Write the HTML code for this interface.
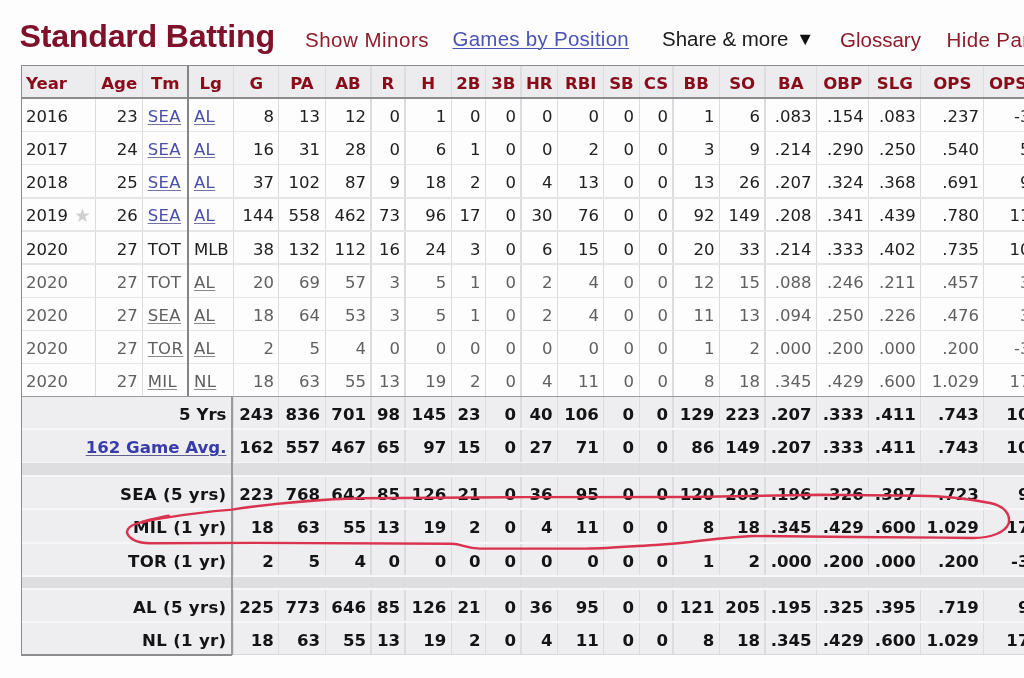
<!DOCTYPE html>
<html><head><meta charset="utf-8"><title>Standard Batting</title>
<style>
html,body{margin:0;padding:0;}
body{width:1024px;height:678px;overflow:hidden;position:relative;background:#fdfdfd;}
.bg,.vl,.hd,.hw,.dk,.th,.td,.tf,.top{position:absolute;}
.vl{width:1.2px;background:#dcdcde;}
.hd{height:1.5px;background:#e5e5e7;}
.hw{height:1.8px;background:#f7f7f9;}
.dk{background:#8c8c8e;}
.th,.td,.tf{font-family:"DejaVu Sans","Liberation Sans",sans-serif;white-space:nowrap;overflow:visible;box-sizing:border-box;}
.th{font-weight:bold;font-size:16.6px;color:#880c1a;text-align:center;line-height:33px;padding-top:2px;}
.td{font-size:16.5px;color:#202020;line-height:33px;padding-top:1.5px;}
.td.p{color:#606062;}
.td u{text-decoration:underline;text-decoration-thickness:1.2px;text-underline-offset:2px;color:#4a50a8;text-decoration-color:#7275a6;letter-spacing:0.4px;}
.td.p u{color:#606062;text-decoration-color:#8a8a8c;}
.tf{font-size:16.6px;font-weight:bold;color:#141414;line-height:33px;padding-top:2px;}
.tf u.lk{color:#383ca8;text-decoration-thickness:1.2px;text-underline-offset:2px;text-decoration-color:#5d6090;}
.star{color:#c8c8ca;font-size:15px;margin-left:8px;}
.top{font-family:"Liberation Sans",Arial,sans-serif;white-space:nowrap;}
h2.top{margin:0;font-weight:bold;font-size:32.2px;color:#80112a;left:19.5px;top:17.6px;letter-spacing:-0.25px;}
.lnk{font-size:20.5px;top:27px;}
.red{color:#8e1c2a;}
.blue{color:#4a55b5;text-decoration:underline;text-decoration-thickness:1.2px;text-underline-offset:2px;}
.blk{color:#1a1a1a;}
svg.ov{position:absolute;left:0;top:0;}
</style></head><body>
<h2 class="top">Standard Batting</h2>
<div class="top lnk red" style="left:305px;top:28px;letter-spacing:0.5px">Show Minors</div>
<div class="top lnk blue" style="left:452.5px;letter-spacing:0.26px">Games by Position</div>
<div class="top lnk blk" style="left:662px">Share &amp; more</div>
<svg style="position:absolute;left:0;top:0" width="1024" height="60"><polygon points="799.8,34.8 810.6,34.8 805.2,45.2" fill="#111"/></svg>
<div class="top lnk red" style="left:840px;top:28px">Glossary</div>
<div class="top lnk red" style="left:946.5px;top:28px;letter-spacing:0.4px">Hide Partial Seasons</div>
<div class="bg" style="left:21px;top:65.0px;width:1009px;height:33.0px;background:#ecebee"></div>
<div class="bg" style="left:21px;top:396.2px;width:1009px;height:258.59999999999997px;background:#eeedf0"></div>
<div class="bg" style="left:21px;top:462.7px;width:1009px;height:13.5px;background:#dedde0"></div>
<div class="bg" style="left:21px;top:576.0px;width:1009px;height:13.399999999999977px;background:#dedde0"></div>
<div class="vl" style="left:95px;top:65.0px;height:33.0px"></div>
<div class="vl" style="left:95px;top:98.0px;height:298.2px"></div>
<div class="vl" style="left:142.15px;top:65.0px;height:33.0px"></div>
<div class="vl" style="left:142.15px;top:98.0px;height:298.2px"></div>
<div class="vl" style="left:233px;top:65.0px;height:33.0px"></div>
<div class="vl" style="left:233px;top:98.0px;height:298.2px"></div>
<div class="vl" style="left:233px;top:396.2px;height:258.59999999999997px"></div>
<div class="vl" style="left:278.3px;top:65.0px;height:33.0px"></div>
<div class="vl" style="left:278.3px;top:98.0px;height:298.2px"></div>
<div class="vl" style="left:278.3px;top:396.2px;height:258.59999999999997px"></div>
<div class="vl" style="left:324.5px;top:65.0px;height:33.0px"></div>
<div class="vl" style="left:324.5px;top:98.0px;height:298.2px"></div>
<div class="vl" style="left:324.5px;top:396.2px;height:258.59999999999997px"></div>
<div class="vl" style="left:370.4px;top:65.0px;height:33.0px"></div>
<div class="vl" style="left:370.4px;top:98.0px;height:298.2px"></div>
<div class="vl" style="left:370.4px;top:396.2px;height:258.59999999999997px"></div>
<div class="vl" style="left:404.4px;top:65.0px;height:33.0px"></div>
<div class="vl" style="left:404.4px;top:98.0px;height:298.2px"></div>
<div class="vl" style="left:404.4px;top:396.2px;height:258.59999999999997px"></div>
<div class="vl" style="left:450.65px;top:65.0px;height:33.0px"></div>
<div class="vl" style="left:450.65px;top:98.0px;height:298.2px"></div>
<div class="vl" style="left:450.65px;top:396.2px;height:258.59999999999997px"></div>
<div class="vl" style="left:484.9px;top:65.0px;height:33.0px"></div>
<div class="vl" style="left:484.9px;top:98.0px;height:298.2px"></div>
<div class="vl" style="left:484.9px;top:396.2px;height:258.59999999999997px"></div>
<div class="vl" style="left:520.4px;top:65.0px;height:33.0px"></div>
<div class="vl" style="left:520.4px;top:98.0px;height:298.2px"></div>
<div class="vl" style="left:520.4px;top:396.2px;height:258.59999999999997px"></div>
<div class="vl" style="left:557px;top:65.0px;height:33.0px"></div>
<div class="vl" style="left:557px;top:98.0px;height:298.2px"></div>
<div class="vl" style="left:557px;top:396.2px;height:258.59999999999997px"></div>
<div class="vl" style="left:603.3px;top:65.0px;height:33.0px"></div>
<div class="vl" style="left:603.3px;top:98.0px;height:298.2px"></div>
<div class="vl" style="left:603.3px;top:396.2px;height:258.59999999999997px"></div>
<div class="vl" style="left:638.5px;top:65.0px;height:33.0px"></div>
<div class="vl" style="left:638.5px;top:98.0px;height:298.2px"></div>
<div class="vl" style="left:638.5px;top:396.2px;height:258.59999999999997px"></div>
<div class="vl" style="left:672.4px;top:65.0px;height:33.0px"></div>
<div class="vl" style="left:672.4px;top:98.0px;height:298.2px"></div>
<div class="vl" style="left:672.4px;top:396.2px;height:258.59999999999997px"></div>
<div class="vl" style="left:718.8px;top:65.0px;height:33.0px"></div>
<div class="vl" style="left:718.8px;top:98.0px;height:298.2px"></div>
<div class="vl" style="left:718.8px;top:396.2px;height:258.59999999999997px"></div>
<div class="vl" style="left:764.4px;top:65.0px;height:33.0px"></div>
<div class="vl" style="left:764.4px;top:98.0px;height:298.2px"></div>
<div class="vl" style="left:764.4px;top:396.2px;height:258.59999999999997px"></div>
<div class="vl" style="left:816px;top:65.0px;height:33.0px"></div>
<div class="vl" style="left:816px;top:98.0px;height:298.2px"></div>
<div class="vl" style="left:816px;top:396.2px;height:258.59999999999997px"></div>
<div class="vl" style="left:868.15px;top:65.0px;height:33.0px"></div>
<div class="vl" style="left:868.15px;top:98.0px;height:298.2px"></div>
<div class="vl" style="left:868.15px;top:396.2px;height:258.59999999999997px"></div>
<div class="vl" style="left:920.2px;top:65.0px;height:33.0px"></div>
<div class="vl" style="left:920.2px;top:98.0px;height:298.2px"></div>
<div class="vl" style="left:920.2px;top:396.2px;height:258.59999999999997px"></div>
<div class="vl" style="left:983.3px;top:65.0px;height:33.0px"></div>
<div class="vl" style="left:983.3px;top:98.0px;height:298.2px"></div>
<div class="vl" style="left:983.3px;top:396.2px;height:258.59999999999997px"></div>
<div class="hd" style="left:21px;top:130.55px;width:1009px"></div>
<div class="hd" style="left:21px;top:163.85px;width:1009px"></div>
<div class="hd" style="left:21px;top:197.15px;width:1009px"></div>
<div class="hd" style="left:21px;top:230.25px;width:1009px"></div>
<div class="hd" style="left:21px;top:263.25px;width:1009px"></div>
<div class="hd" style="left:21px;top:296.55px;width:1009px"></div>
<div class="hd" style="left:21px;top:329.75px;width:1009px"></div>
<div class="hd" style="left:21px;top:362.85px;width:1009px"></div>
<div class="hw" style="left:21px;top:428.2px;width:1009px"></div>
<div class="hw" style="left:21px;top:461.7px;width:1009px"></div>
<div class="hw" style="left:21px;top:475.2px;width:1009px"></div>
<div class="hw" style="left:21px;top:508.3px;width:1009px"></div>
<div class="hw" style="left:21px;top:542.2px;width:1009px"></div>
<div class="hw" style="left:21px;top:575px;width:1009px"></div>
<div class="hw" style="left:21px;top:588.4px;width:1009px"></div>
<div class="hw" style="left:21px;top:620.8px;width:1009px"></div>
<div class="dk" style="left:21px;top:64.5px;width:1009px;height:1.5px"></div>
<div class="dk" style="left:21px;top:97.3px;width:1009px;height:1.5px"></div>
<div class="dk" style="left:21px;top:395.9px;width:1009px;height:1.4px;background:#9a9a9c"></div>
<div class="dk" style="left:21px;top:654.3px;width:211px;height:1.6px"></div>
<div class="dk" style="left:232px;top:653.8px;width:798px;height:1.4px;background:#d9d9db"></div>
<div class="dk" style="left:20.5px;top:64.5px;width:1.5px;height:591.3px"></div>
<div class="dk" style="left:186.85px;top:65.0px;width:1.8px;height:331.2px;background:#858587"></div>
<div class="dk" style="left:231.3px;top:396.2px;width:1.4px;height:258.59999999999997px;background:#9a9a9c"></div>
<div class="th" style="left:25.9px;top:65.0px;height:33.0px;width:69.7px;text-align:left">Year</div>
<div class="th" style="left:95.6px;top:65.0px;height:33.0px;width:47.15px">Age</div>
<div class="th" style="left:142.75px;top:65.0px;height:33.0px;width:45px">Tm</div>
<div class="th" style="left:187.75px;top:65.0px;height:33.0px;width:45.85px">Lg</div>
<div class="th" style="left:233.6px;top:65.0px;height:33.0px;width:45.3px">G</div>
<div class="th" style="left:278.9px;top:65.0px;height:33.0px;width:46.2px">PA</div>
<div class="th" style="left:325.1px;top:65.0px;height:33.0px;width:45.9px">AB</div>
<div class="th" style="left:371px;top:65.0px;height:33.0px;width:34px">R</div>
<div class="th" style="left:405px;top:65.0px;height:33.0px;width:46.25px">H</div>
<div class="th" style="left:451.25px;top:65.0px;height:33.0px;width:34.25px">2B</div>
<div class="th" style="left:485.5px;top:65.0px;height:33.0px;width:35.5px">3B</div>
<div class="th" style="left:521px;top:65.0px;height:33.0px;width:36.6px">HR</div>
<div class="th" style="left:557.6px;top:65.0px;height:33.0px;width:46.3px">RBI</div>
<div class="th" style="left:603.9px;top:65.0px;height:33.0px;width:35.2px">SB</div>
<div class="th" style="left:639.1px;top:65.0px;height:33.0px;width:33.9px">CS</div>
<div class="th" style="left:673px;top:65.0px;height:33.0px;width:46.4px">BB</div>
<div class="th" style="left:719.4px;top:65.0px;height:33.0px;width:45.6px">SO</div>
<div class="th" style="left:765px;top:65.0px;height:33.0px;width:51.6px">BA</div>
<div class="th" style="left:816.6px;top:65.0px;height:33.0px;width:52.15px">OBP</div>
<div class="th" style="left:868.75px;top:65.0px;height:33.0px;width:52.05px">SLG</div>
<div class="th" style="left:920.8px;top:65.0px;height:33.0px;width:63.1px">OPS</div>
<div class="th" style="left:983.9px;top:65.0px;height:33.0px;width:62.1px">OPS+</div>
<div class="td" style="top:98px;height:33.3px;left:25.9px;width:69.7px;text-align:left">2016</div>
<div class="td" style="top:98px;height:33.3px;left:95.6px;width:42.15px;text-align:right">23</div>
<div class="td" style="top:98px;height:33.3px;left:147.65px;width:40.1px;text-align:left"><u>SEA</u></div>
<div class="td" style="top:98px;height:33.3px;left:193.95px;width:39.65px;text-align:left"><u>AL</u></div>
<div class="td" style="top:98px;height:33.3px;left:233.6px;width:40.3px;text-align:right">8</div>
<div class="td" style="top:98px;height:33.3px;left:278.9px;width:41.2px;text-align:right">13</div>
<div class="td" style="top:98px;height:33.3px;left:325.1px;width:40.9px;text-align:right">12</div>
<div class="td" style="top:98px;height:33.3px;left:371px;width:29px;text-align:right">0</div>
<div class="td" style="top:98px;height:33.3px;left:405px;width:41.25px;text-align:right">1</div>
<div class="td" style="top:98px;height:33.3px;left:451.25px;width:29.25px;text-align:right">0</div>
<div class="td" style="top:98px;height:33.3px;left:485.5px;width:30.5px;text-align:right">0</div>
<div class="td" style="top:98px;height:33.3px;left:521px;width:31.6px;text-align:right">0</div>
<div class="td" style="top:98px;height:33.3px;left:557.6px;width:41.3px;text-align:right">0</div>
<div class="td" style="top:98px;height:33.3px;left:603.9px;width:30.2px;text-align:right">0</div>
<div class="td" style="top:98px;height:33.3px;left:639.1px;width:28.9px;text-align:right">0</div>
<div class="td" style="top:98px;height:33.3px;left:673px;width:41.4px;text-align:right">1</div>
<div class="td" style="top:98px;height:33.3px;left:719.4px;width:40.6px;text-align:right">6</div>
<div class="td" style="top:98px;height:33.3px;left:765px;width:46.6px;text-align:right">.083</div>
<div class="td" style="top:98px;height:33.3px;left:816.6px;width:47.15px;text-align:right">.154</div>
<div class="td" style="top:98px;height:33.3px;left:868.75px;width:47.05px;text-align:right">.083</div>
<div class="td" style="top:98px;height:33.3px;left:920.8px;width:58.1px;text-align:right">.237</div>
<div class="td" style="top:98px;height:33.3px;left:983.9px;width:57.1px;text-align:right">-31</div>
<div class="td" style="top:131.3px;height:33.3px;left:25.9px;width:69.7px;text-align:left">2017</div>
<div class="td" style="top:131.3px;height:33.3px;left:95.6px;width:42.15px;text-align:right">24</div>
<div class="td" style="top:131.3px;height:33.3px;left:147.65px;width:40.1px;text-align:left"><u>SEA</u></div>
<div class="td" style="top:131.3px;height:33.3px;left:193.95px;width:39.65px;text-align:left"><u>AL</u></div>
<div class="td" style="top:131.3px;height:33.3px;left:233.6px;width:40.3px;text-align:right">16</div>
<div class="td" style="top:131.3px;height:33.3px;left:278.9px;width:41.2px;text-align:right">31</div>
<div class="td" style="top:131.3px;height:33.3px;left:325.1px;width:40.9px;text-align:right">28</div>
<div class="td" style="top:131.3px;height:33.3px;left:371px;width:29px;text-align:right">0</div>
<div class="td" style="top:131.3px;height:33.3px;left:405px;width:41.25px;text-align:right">6</div>
<div class="td" style="top:131.3px;height:33.3px;left:451.25px;width:29.25px;text-align:right">1</div>
<div class="td" style="top:131.3px;height:33.3px;left:485.5px;width:30.5px;text-align:right">0</div>
<div class="td" style="top:131.3px;height:33.3px;left:521px;width:31.6px;text-align:right">0</div>
<div class="td" style="top:131.3px;height:33.3px;left:557.6px;width:41.3px;text-align:right">2</div>
<div class="td" style="top:131.3px;height:33.3px;left:603.9px;width:30.2px;text-align:right">0</div>
<div class="td" style="top:131.3px;height:33.3px;left:639.1px;width:28.9px;text-align:right">0</div>
<div class="td" style="top:131.3px;height:33.3px;left:673px;width:41.4px;text-align:right">3</div>
<div class="td" style="top:131.3px;height:33.3px;left:719.4px;width:40.6px;text-align:right">9</div>
<div class="td" style="top:131.3px;height:33.3px;left:765px;width:46.6px;text-align:right">.214</div>
<div class="td" style="top:131.3px;height:33.3px;left:816.6px;width:47.15px;text-align:right">.290</div>
<div class="td" style="top:131.3px;height:33.3px;left:868.75px;width:47.05px;text-align:right">.250</div>
<div class="td" style="top:131.3px;height:33.3px;left:920.8px;width:58.1px;text-align:right">.540</div>
<div class="td" style="top:131.3px;height:33.3px;left:983.9px;width:57.1px;text-align:right">53</div>
<div class="td" style="top:164.6px;height:33.3px;left:25.9px;width:69.7px;text-align:left">2018</div>
<div class="td" style="top:164.6px;height:33.3px;left:95.6px;width:42.15px;text-align:right">25</div>
<div class="td" style="top:164.6px;height:33.3px;left:147.65px;width:40.1px;text-align:left"><u>SEA</u></div>
<div class="td" style="top:164.6px;height:33.3px;left:193.95px;width:39.65px;text-align:left"><u>AL</u></div>
<div class="td" style="top:164.6px;height:33.3px;left:233.6px;width:40.3px;text-align:right">37</div>
<div class="td" style="top:164.6px;height:33.3px;left:278.9px;width:41.2px;text-align:right">102</div>
<div class="td" style="top:164.6px;height:33.3px;left:325.1px;width:40.9px;text-align:right">87</div>
<div class="td" style="top:164.6px;height:33.3px;left:371px;width:29px;text-align:right">9</div>
<div class="td" style="top:164.6px;height:33.3px;left:405px;width:41.25px;text-align:right">18</div>
<div class="td" style="top:164.6px;height:33.3px;left:451.25px;width:29.25px;text-align:right">2</div>
<div class="td" style="top:164.6px;height:33.3px;left:485.5px;width:30.5px;text-align:right">0</div>
<div class="td" style="top:164.6px;height:33.3px;left:521px;width:31.6px;text-align:right">4</div>
<div class="td" style="top:164.6px;height:33.3px;left:557.6px;width:41.3px;text-align:right">13</div>
<div class="td" style="top:164.6px;height:33.3px;left:603.9px;width:30.2px;text-align:right">0</div>
<div class="td" style="top:164.6px;height:33.3px;left:639.1px;width:28.9px;text-align:right">0</div>
<div class="td" style="top:164.6px;height:33.3px;left:673px;width:41.4px;text-align:right">13</div>
<div class="td" style="top:164.6px;height:33.3px;left:719.4px;width:40.6px;text-align:right">26</div>
<div class="td" style="top:164.6px;height:33.3px;left:765px;width:46.6px;text-align:right">.207</div>
<div class="td" style="top:164.6px;height:33.3px;left:816.6px;width:47.15px;text-align:right">.324</div>
<div class="td" style="top:164.6px;height:33.3px;left:868.75px;width:47.05px;text-align:right">.368</div>
<div class="td" style="top:164.6px;height:33.3px;left:920.8px;width:58.1px;text-align:right">.691</div>
<div class="td" style="top:164.6px;height:33.3px;left:983.9px;width:57.1px;text-align:right">93</div>
<div class="td" style="top:197.9px;height:33.1px;left:25.9px;width:69.7px;text-align:left">2019</div>
<div class="td" style="top:197.9px;height:33.1px;left:95.6px;width:42.15px;text-align:right">26</div>
<div class="td" style="top:197.9px;height:33.1px;left:147.65px;width:40.1px;text-align:left"><u>SEA</u></div>
<div class="td" style="top:197.9px;height:33.1px;left:193.95px;width:39.65px;text-align:left"><u>AL</u></div>
<div class="td" style="top:197.9px;height:33.1px;left:233.6px;width:40.3px;text-align:right">144</div>
<div class="td" style="top:197.9px;height:33.1px;left:278.9px;width:41.2px;text-align:right">558</div>
<div class="td" style="top:197.9px;height:33.1px;left:325.1px;width:40.9px;text-align:right">462</div>
<div class="td" style="top:197.9px;height:33.1px;left:371px;width:29px;text-align:right">73</div>
<div class="td" style="top:197.9px;height:33.1px;left:405px;width:41.25px;text-align:right">96</div>
<div class="td" style="top:197.9px;height:33.1px;left:451.25px;width:29.25px;text-align:right">17</div>
<div class="td" style="top:197.9px;height:33.1px;left:485.5px;width:30.5px;text-align:right">0</div>
<div class="td" style="top:197.9px;height:33.1px;left:521px;width:31.6px;text-align:right">30</div>
<div class="td" style="top:197.9px;height:33.1px;left:557.6px;width:41.3px;text-align:right">76</div>
<div class="td" style="top:197.9px;height:33.1px;left:603.9px;width:30.2px;text-align:right">0</div>
<div class="td" style="top:197.9px;height:33.1px;left:639.1px;width:28.9px;text-align:right">0</div>
<div class="td" style="top:197.9px;height:33.1px;left:673px;width:41.4px;text-align:right">92</div>
<div class="td" style="top:197.9px;height:33.1px;left:719.4px;width:40.6px;text-align:right">149</div>
<div class="td" style="top:197.9px;height:33.1px;left:765px;width:46.6px;text-align:right">.208</div>
<div class="td" style="top:197.9px;height:33.1px;left:816.6px;width:47.15px;text-align:right">.341</div>
<div class="td" style="top:197.9px;height:33.1px;left:868.75px;width:47.05px;text-align:right">.439</div>
<div class="td" style="top:197.9px;height:33.1px;left:920.8px;width:58.1px;text-align:right">.780</div>
<div class="td" style="top:197.9px;height:33.1px;left:983.9px;width:57.1px;text-align:right">112</div>
<div class="td" style="top:231px;height:33px;left:25.9px;width:69.7px;text-align:left">2020</div>
<div class="td" style="top:231px;height:33px;left:95.6px;width:42.15px;text-align:right">27</div>
<div class="td" style="top:231px;height:33px;left:147.65px;width:40.1px;text-align:left">TOT</div>
<div class="td" style="top:231px;height:33px;left:193.95px;width:39.65px;text-align:left">MLB</div>
<div class="td" style="top:231px;height:33px;left:233.6px;width:40.3px;text-align:right">38</div>
<div class="td" style="top:231px;height:33px;left:278.9px;width:41.2px;text-align:right">132</div>
<div class="td" style="top:231px;height:33px;left:325.1px;width:40.9px;text-align:right">112</div>
<div class="td" style="top:231px;height:33px;left:371px;width:29px;text-align:right">16</div>
<div class="td" style="top:231px;height:33px;left:405px;width:41.25px;text-align:right">24</div>
<div class="td" style="top:231px;height:33px;left:451.25px;width:29.25px;text-align:right">3</div>
<div class="td" style="top:231px;height:33px;left:485.5px;width:30.5px;text-align:right">0</div>
<div class="td" style="top:231px;height:33px;left:521px;width:31.6px;text-align:right">6</div>
<div class="td" style="top:231px;height:33px;left:557.6px;width:41.3px;text-align:right">15</div>
<div class="td" style="top:231px;height:33px;left:603.9px;width:30.2px;text-align:right">0</div>
<div class="td" style="top:231px;height:33px;left:639.1px;width:28.9px;text-align:right">0</div>
<div class="td" style="top:231px;height:33px;left:673px;width:41.4px;text-align:right">20</div>
<div class="td" style="top:231px;height:33px;left:719.4px;width:40.6px;text-align:right">33</div>
<div class="td" style="top:231px;height:33px;left:765px;width:46.6px;text-align:right">.214</div>
<div class="td" style="top:231px;height:33px;left:816.6px;width:47.15px;text-align:right">.333</div>
<div class="td" style="top:231px;height:33px;left:868.75px;width:47.05px;text-align:right">.402</div>
<div class="td" style="top:231px;height:33px;left:920.8px;width:58.1px;text-align:right">.735</div>
<div class="td" style="top:231px;height:33px;left:983.9px;width:57.1px;text-align:right">103</div>
<div class="td p" style="top:264px;height:33.3px;left:25.9px;width:69.7px;text-align:left">2020</div>
<div class="td p" style="top:264px;height:33.3px;left:95.6px;width:42.15px;text-align:right">27</div>
<div class="td p" style="top:264px;height:33.3px;left:147.65px;width:40.1px;text-align:left">TOT</div>
<div class="td p" style="top:264px;height:33.3px;left:193.95px;width:39.65px;text-align:left"><u>AL</u></div>
<div class="td p" style="top:264px;height:33.3px;left:233.6px;width:40.3px;text-align:right">20</div>
<div class="td p" style="top:264px;height:33.3px;left:278.9px;width:41.2px;text-align:right">69</div>
<div class="td p" style="top:264px;height:33.3px;left:325.1px;width:40.9px;text-align:right">57</div>
<div class="td p" style="top:264px;height:33.3px;left:371px;width:29px;text-align:right">3</div>
<div class="td p" style="top:264px;height:33.3px;left:405px;width:41.25px;text-align:right">5</div>
<div class="td p" style="top:264px;height:33.3px;left:451.25px;width:29.25px;text-align:right">1</div>
<div class="td p" style="top:264px;height:33.3px;left:485.5px;width:30.5px;text-align:right">0</div>
<div class="td p" style="top:264px;height:33.3px;left:521px;width:31.6px;text-align:right">2</div>
<div class="td p" style="top:264px;height:33.3px;left:557.6px;width:41.3px;text-align:right">4</div>
<div class="td p" style="top:264px;height:33.3px;left:603.9px;width:30.2px;text-align:right">0</div>
<div class="td p" style="top:264px;height:33.3px;left:639.1px;width:28.9px;text-align:right">0</div>
<div class="td p" style="top:264px;height:33.3px;left:673px;width:41.4px;text-align:right">12</div>
<div class="td p" style="top:264px;height:33.3px;left:719.4px;width:40.6px;text-align:right">15</div>
<div class="td p" style="top:264px;height:33.3px;left:765px;width:46.6px;text-align:right">.088</div>
<div class="td p" style="top:264px;height:33.3px;left:816.6px;width:47.15px;text-align:right">.246</div>
<div class="td p" style="top:264px;height:33.3px;left:868.75px;width:47.05px;text-align:right">.211</div>
<div class="td p" style="top:264px;height:33.3px;left:920.8px;width:58.1px;text-align:right">.457</div>
<div class="td p" style="top:264px;height:33.3px;left:983.9px;width:57.1px;text-align:right">31</div>
<div class="td p" style="top:297.3px;height:33.2px;left:25.9px;width:69.7px;text-align:left">2020</div>
<div class="td p" style="top:297.3px;height:33.2px;left:95.6px;width:42.15px;text-align:right">27</div>
<div class="td p" style="top:297.3px;height:33.2px;left:147.65px;width:40.1px;text-align:left"><u>SEA</u></div>
<div class="td p" style="top:297.3px;height:33.2px;left:193.95px;width:39.65px;text-align:left"><u>AL</u></div>
<div class="td p" style="top:297.3px;height:33.2px;left:233.6px;width:40.3px;text-align:right">18</div>
<div class="td p" style="top:297.3px;height:33.2px;left:278.9px;width:41.2px;text-align:right">64</div>
<div class="td p" style="top:297.3px;height:33.2px;left:325.1px;width:40.9px;text-align:right">53</div>
<div class="td p" style="top:297.3px;height:33.2px;left:371px;width:29px;text-align:right">3</div>
<div class="td p" style="top:297.3px;height:33.2px;left:405px;width:41.25px;text-align:right">5</div>
<div class="td p" style="top:297.3px;height:33.2px;left:451.25px;width:29.25px;text-align:right">1</div>
<div class="td p" style="top:297.3px;height:33.2px;left:485.5px;width:30.5px;text-align:right">0</div>
<div class="td p" style="top:297.3px;height:33.2px;left:521px;width:31.6px;text-align:right">2</div>
<div class="td p" style="top:297.3px;height:33.2px;left:557.6px;width:41.3px;text-align:right">4</div>
<div class="td p" style="top:297.3px;height:33.2px;left:603.9px;width:30.2px;text-align:right">0</div>
<div class="td p" style="top:297.3px;height:33.2px;left:639.1px;width:28.9px;text-align:right">0</div>
<div class="td p" style="top:297.3px;height:33.2px;left:673px;width:41.4px;text-align:right">11</div>
<div class="td p" style="top:297.3px;height:33.2px;left:719.4px;width:40.6px;text-align:right">13</div>
<div class="td p" style="top:297.3px;height:33.2px;left:765px;width:46.6px;text-align:right">.094</div>
<div class="td p" style="top:297.3px;height:33.2px;left:816.6px;width:47.15px;text-align:right">.250</div>
<div class="td p" style="top:297.3px;height:33.2px;left:868.75px;width:47.05px;text-align:right">.226</div>
<div class="td p" style="top:297.3px;height:33.2px;left:920.8px;width:58.1px;text-align:right">.476</div>
<div class="td p" style="top:297.3px;height:33.2px;left:983.9px;width:57.1px;text-align:right">35</div>
<div class="td p" style="top:330.5px;height:33.1px;left:25.9px;width:69.7px;text-align:left">2020</div>
<div class="td p" style="top:330.5px;height:33.1px;left:95.6px;width:42.15px;text-align:right">27</div>
<div class="td p" style="top:330.5px;height:33.1px;left:147.65px;width:40.1px;text-align:left"><u>TOR</u></div>
<div class="td p" style="top:330.5px;height:33.1px;left:193.95px;width:39.65px;text-align:left"><u>AL</u></div>
<div class="td p" style="top:330.5px;height:33.1px;left:233.6px;width:40.3px;text-align:right">2</div>
<div class="td p" style="top:330.5px;height:33.1px;left:278.9px;width:41.2px;text-align:right">5</div>
<div class="td p" style="top:330.5px;height:33.1px;left:325.1px;width:40.9px;text-align:right">4</div>
<div class="td p" style="top:330.5px;height:33.1px;left:371px;width:29px;text-align:right">0</div>
<div class="td p" style="top:330.5px;height:33.1px;left:405px;width:41.25px;text-align:right">0</div>
<div class="td p" style="top:330.5px;height:33.1px;left:451.25px;width:29.25px;text-align:right">0</div>
<div class="td p" style="top:330.5px;height:33.1px;left:485.5px;width:30.5px;text-align:right">0</div>
<div class="td p" style="top:330.5px;height:33.1px;left:521px;width:31.6px;text-align:right">0</div>
<div class="td p" style="top:330.5px;height:33.1px;left:557.6px;width:41.3px;text-align:right">0</div>
<div class="td p" style="top:330.5px;height:33.1px;left:603.9px;width:30.2px;text-align:right">0</div>
<div class="td p" style="top:330.5px;height:33.1px;left:639.1px;width:28.9px;text-align:right">0</div>
<div class="td p" style="top:330.5px;height:33.1px;left:673px;width:41.4px;text-align:right">1</div>
<div class="td p" style="top:330.5px;height:33.1px;left:719.4px;width:40.6px;text-align:right">2</div>
<div class="td p" style="top:330.5px;height:33.1px;left:765px;width:46.6px;text-align:right">.000</div>
<div class="td p" style="top:330.5px;height:33.1px;left:816.6px;width:47.15px;text-align:right">.200</div>
<div class="td p" style="top:330.5px;height:33.1px;left:868.75px;width:47.05px;text-align:right">.000</div>
<div class="td p" style="top:330.5px;height:33.1px;left:920.8px;width:58.1px;text-align:right">.200</div>
<div class="td p" style="top:330.5px;height:33.1px;left:983.9px;width:57.1px;text-align:right">-39</div>
<div class="td p" style="top:363.6px;height:32.6px;left:25.9px;width:69.7px;text-align:left">2020</div>
<div class="td p" style="top:363.6px;height:32.6px;left:95.6px;width:42.15px;text-align:right">27</div>
<div class="td p" style="top:363.6px;height:32.6px;left:147.65px;width:40.1px;text-align:left"><u>MIL</u></div>
<div class="td p" style="top:363.6px;height:32.6px;left:193.95px;width:39.65px;text-align:left"><u>NL</u></div>
<div class="td p" style="top:363.6px;height:32.6px;left:233.6px;width:40.3px;text-align:right">18</div>
<div class="td p" style="top:363.6px;height:32.6px;left:278.9px;width:41.2px;text-align:right">63</div>
<div class="td p" style="top:363.6px;height:32.6px;left:325.1px;width:40.9px;text-align:right">55</div>
<div class="td p" style="top:363.6px;height:32.6px;left:371px;width:29px;text-align:right">13</div>
<div class="td p" style="top:363.6px;height:32.6px;left:405px;width:41.25px;text-align:right">19</div>
<div class="td p" style="top:363.6px;height:32.6px;left:451.25px;width:29.25px;text-align:right">2</div>
<div class="td p" style="top:363.6px;height:32.6px;left:485.5px;width:30.5px;text-align:right">0</div>
<div class="td p" style="top:363.6px;height:32.6px;left:521px;width:31.6px;text-align:right">4</div>
<div class="td p" style="top:363.6px;height:32.6px;left:557.6px;width:41.3px;text-align:right">11</div>
<div class="td p" style="top:363.6px;height:32.6px;left:603.9px;width:30.2px;text-align:right">0</div>
<div class="td p" style="top:363.6px;height:32.6px;left:639.1px;width:28.9px;text-align:right">0</div>
<div class="td p" style="top:363.6px;height:32.6px;left:673px;width:41.4px;text-align:right">8</div>
<div class="td p" style="top:363.6px;height:32.6px;left:719.4px;width:40.6px;text-align:right">18</div>
<div class="td p" style="top:363.6px;height:32.6px;left:765px;width:46.6px;text-align:right">.345</div>
<div class="td p" style="top:363.6px;height:32.6px;left:816.6px;width:47.15px;text-align:right">.429</div>
<div class="td p" style="top:363.6px;height:32.6px;left:868.75px;width:47.05px;text-align:right">.600</div>
<div class="td p" style="top:363.6px;height:32.6px;left:920.8px;width:58.1px;text-align:right">1.029</div>
<div class="td p" style="top:363.6px;height:32.6px;left:983.9px;width:57.1px;text-align:right">176</div>
<div class="tf" style="top:396.2px;height:33px;left:21px;width:205.5px;text-align:right">5 Yrs</div>
<div class="tf" style="top:396.2px;height:33px;left:233.6px;width:40.3px;text-align:right">243</div>
<div class="tf" style="top:396.2px;height:33px;left:278.9px;width:41.2px;text-align:right">836</div>
<div class="tf" style="top:396.2px;height:33px;left:325.1px;width:40.9px;text-align:right">701</div>
<div class="tf" style="top:396.2px;height:33px;left:371px;width:29px;text-align:right">98</div>
<div class="tf" style="top:396.2px;height:33px;left:405px;width:41.25px;text-align:right">145</div>
<div class="tf" style="top:396.2px;height:33px;left:451.25px;width:29.25px;text-align:right">23</div>
<div class="tf" style="top:396.2px;height:33px;left:485.5px;width:30.5px;text-align:right">0</div>
<div class="tf" style="top:396.2px;height:33px;left:521px;width:31.6px;text-align:right">40</div>
<div class="tf" style="top:396.2px;height:33px;left:557.6px;width:41.3px;text-align:right">106</div>
<div class="tf" style="top:396.2px;height:33px;left:603.9px;width:30.2px;text-align:right">0</div>
<div class="tf" style="top:396.2px;height:33px;left:639.1px;width:28.9px;text-align:right">0</div>
<div class="tf" style="top:396.2px;height:33px;left:673px;width:41.4px;text-align:right">129</div>
<div class="tf" style="top:396.2px;height:33px;left:719.4px;width:40.6px;text-align:right">223</div>
<div class="tf" style="top:396.2px;height:33px;left:765px;width:46.6px;text-align:right">.207</div>
<div class="tf" style="top:396.2px;height:33px;left:816.6px;width:47.15px;text-align:right">.333</div>
<div class="tf" style="top:396.2px;height:33px;left:868.75px;width:47.05px;text-align:right">.411</div>
<div class="tf" style="top:396.2px;height:33px;left:920.8px;width:58.1px;text-align:right">.743</div>
<div class="tf" style="top:396.2px;height:33px;left:983.9px;width:57.1px;text-align:right">104</div>
<div class="tf" style="top:429.2px;height:33.5px;left:21px;width:205.5px;text-align:right"><u class="lk">162 Game Avg.</u></div>
<div class="tf" style="top:429.2px;height:33.5px;left:233.6px;width:40.3px;text-align:right">162</div>
<div class="tf" style="top:429.2px;height:33.5px;left:278.9px;width:41.2px;text-align:right">557</div>
<div class="tf" style="top:429.2px;height:33.5px;left:325.1px;width:40.9px;text-align:right">467</div>
<div class="tf" style="top:429.2px;height:33.5px;left:371px;width:29px;text-align:right">65</div>
<div class="tf" style="top:429.2px;height:33.5px;left:405px;width:41.25px;text-align:right">97</div>
<div class="tf" style="top:429.2px;height:33.5px;left:451.25px;width:29.25px;text-align:right">15</div>
<div class="tf" style="top:429.2px;height:33.5px;left:485.5px;width:30.5px;text-align:right">0</div>
<div class="tf" style="top:429.2px;height:33.5px;left:521px;width:31.6px;text-align:right">27</div>
<div class="tf" style="top:429.2px;height:33.5px;left:557.6px;width:41.3px;text-align:right">71</div>
<div class="tf" style="top:429.2px;height:33.5px;left:603.9px;width:30.2px;text-align:right">0</div>
<div class="tf" style="top:429.2px;height:33.5px;left:639.1px;width:28.9px;text-align:right">0</div>
<div class="tf" style="top:429.2px;height:33.5px;left:673px;width:41.4px;text-align:right">86</div>
<div class="tf" style="top:429.2px;height:33.5px;left:719.4px;width:40.6px;text-align:right">149</div>
<div class="tf" style="top:429.2px;height:33.5px;left:765px;width:46.6px;text-align:right">.207</div>
<div class="tf" style="top:429.2px;height:33.5px;left:816.6px;width:47.15px;text-align:right">.333</div>
<div class="tf" style="top:429.2px;height:33.5px;left:868.75px;width:47.05px;text-align:right">.411</div>
<div class="tf" style="top:429.2px;height:33.5px;left:920.8px;width:58.1px;text-align:right">.743</div>
<div class="tf" style="top:429.2px;height:33.5px;left:983.9px;width:57.1px;text-align:right">104</div>
<div class="tf" style="top:476.2px;height:33.1px;left:21px;width:205.5px;text-align:right"><span style="letter-spacing:0.3px">SEA (5 yrs)</span></div>
<div class="tf" style="top:476.2px;height:33.1px;left:233.6px;width:40.3px;text-align:right">223</div>
<div class="tf" style="top:476.2px;height:33.1px;left:278.9px;width:41.2px;text-align:right">768</div>
<div class="tf" style="top:476.2px;height:33.1px;left:325.1px;width:40.9px;text-align:right">642</div>
<div class="tf" style="top:476.2px;height:33.1px;left:371px;width:29px;text-align:right">85</div>
<div class="tf" style="top:476.2px;height:33.1px;left:405px;width:41.25px;text-align:right">126</div>
<div class="tf" style="top:476.2px;height:33.1px;left:451.25px;width:29.25px;text-align:right">21</div>
<div class="tf" style="top:476.2px;height:33.1px;left:485.5px;width:30.5px;text-align:right">0</div>
<div class="tf" style="top:476.2px;height:33.1px;left:521px;width:31.6px;text-align:right">36</div>
<div class="tf" style="top:476.2px;height:33.1px;left:557.6px;width:41.3px;text-align:right">95</div>
<div class="tf" style="top:476.2px;height:33.1px;left:603.9px;width:30.2px;text-align:right">0</div>
<div class="tf" style="top:476.2px;height:33.1px;left:639.1px;width:28.9px;text-align:right">0</div>
<div class="tf" style="top:476.2px;height:33.1px;left:673px;width:41.4px;text-align:right">120</div>
<div class="tf" style="top:476.2px;height:33.1px;left:719.4px;width:40.6px;text-align:right">203</div>
<div class="tf" style="top:476.2px;height:33.1px;left:765px;width:46.6px;text-align:right">.196</div>
<div class="tf" style="top:476.2px;height:33.1px;left:816.6px;width:47.15px;text-align:right">.326</div>
<div class="tf" style="top:476.2px;height:33.1px;left:868.75px;width:47.05px;text-align:right">.397</div>
<div class="tf" style="top:476.2px;height:33.1px;left:920.8px;width:58.1px;text-align:right">.723</div>
<div class="tf" style="top:476.2px;height:33.1px;left:983.9px;width:57.1px;text-align:right">97</div>
<div class="tf" style="top:509.3px;height:33.9px;left:21px;width:205.5px;text-align:right"><span style="letter-spacing:0.3px">MIL (1 yr)</span></div>
<div class="tf" style="top:509.3px;height:33.9px;left:233.6px;width:40.3px;text-align:right">18</div>
<div class="tf" style="top:509.3px;height:33.9px;left:278.9px;width:41.2px;text-align:right">63</div>
<div class="tf" style="top:509.3px;height:33.9px;left:325.1px;width:40.9px;text-align:right">55</div>
<div class="tf" style="top:509.3px;height:33.9px;left:371px;width:29px;text-align:right">13</div>
<div class="tf" style="top:509.3px;height:33.9px;left:405px;width:41.25px;text-align:right">19</div>
<div class="tf" style="top:509.3px;height:33.9px;left:451.25px;width:29.25px;text-align:right">2</div>
<div class="tf" style="top:509.3px;height:33.9px;left:485.5px;width:30.5px;text-align:right">0</div>
<div class="tf" style="top:509.3px;height:33.9px;left:521px;width:31.6px;text-align:right">4</div>
<div class="tf" style="top:509.3px;height:33.9px;left:557.6px;width:41.3px;text-align:right">11</div>
<div class="tf" style="top:509.3px;height:33.9px;left:603.9px;width:30.2px;text-align:right">0</div>
<div class="tf" style="top:509.3px;height:33.9px;left:639.1px;width:28.9px;text-align:right">0</div>
<div class="tf" style="top:509.3px;height:33.9px;left:673px;width:41.4px;text-align:right">8</div>
<div class="tf" style="top:509.3px;height:33.9px;left:719.4px;width:40.6px;text-align:right">18</div>
<div class="tf" style="top:509.3px;height:33.9px;left:765px;width:46.6px;text-align:right">.345</div>
<div class="tf" style="top:509.3px;height:33.9px;left:816.6px;width:47.15px;text-align:right">.429</div>
<div class="tf" style="top:509.3px;height:33.9px;left:868.75px;width:47.05px;text-align:right">.600</div>
<div class="tf" style="top:509.3px;height:33.9px;left:920.8px;width:58.1px;text-align:right">1.029</div>
<div class="tf" style="top:509.3px;height:33.9px;left:983.9px;width:57.1px;text-align:right">176</div>
<div class="tf" style="top:543.2px;height:32.8px;left:21px;width:205.5px;text-align:right"><span style="letter-spacing:0.3px">TOR (1 yr)</span></div>
<div class="tf" style="top:543.2px;height:32.8px;left:233.6px;width:40.3px;text-align:right">2</div>
<div class="tf" style="top:543.2px;height:32.8px;left:278.9px;width:41.2px;text-align:right">5</div>
<div class="tf" style="top:543.2px;height:32.8px;left:325.1px;width:40.9px;text-align:right">4</div>
<div class="tf" style="top:543.2px;height:32.8px;left:371px;width:29px;text-align:right">0</div>
<div class="tf" style="top:543.2px;height:32.8px;left:405px;width:41.25px;text-align:right">0</div>
<div class="tf" style="top:543.2px;height:32.8px;left:451.25px;width:29.25px;text-align:right">0</div>
<div class="tf" style="top:543.2px;height:32.8px;left:485.5px;width:30.5px;text-align:right">0</div>
<div class="tf" style="top:543.2px;height:32.8px;left:521px;width:31.6px;text-align:right">0</div>
<div class="tf" style="top:543.2px;height:32.8px;left:557.6px;width:41.3px;text-align:right">0</div>
<div class="tf" style="top:543.2px;height:32.8px;left:603.9px;width:30.2px;text-align:right">0</div>
<div class="tf" style="top:543.2px;height:32.8px;left:639.1px;width:28.9px;text-align:right">0</div>
<div class="tf" style="top:543.2px;height:32.8px;left:673px;width:41.4px;text-align:right">1</div>
<div class="tf" style="top:543.2px;height:32.8px;left:719.4px;width:40.6px;text-align:right">2</div>
<div class="tf" style="top:543.2px;height:32.8px;left:765px;width:46.6px;text-align:right">.000</div>
<div class="tf" style="top:543.2px;height:32.8px;left:816.6px;width:47.15px;text-align:right">.200</div>
<div class="tf" style="top:543.2px;height:32.8px;left:868.75px;width:47.05px;text-align:right">.000</div>
<div class="tf" style="top:543.2px;height:32.8px;left:920.8px;width:58.1px;text-align:right">.200</div>
<div class="tf" style="top:543.2px;height:32.8px;left:983.9px;width:57.1px;text-align:right">-39</div>
<div class="tf" style="top:589.4px;height:32.4px;left:21px;width:205.5px;text-align:right"><span style="letter-spacing:0.3px">AL (5 yrs)</span></div>
<div class="tf" style="top:589.4px;height:32.4px;left:233.6px;width:40.3px;text-align:right">225</div>
<div class="tf" style="top:589.4px;height:32.4px;left:278.9px;width:41.2px;text-align:right">773</div>
<div class="tf" style="top:589.4px;height:32.4px;left:325.1px;width:40.9px;text-align:right">646</div>
<div class="tf" style="top:589.4px;height:32.4px;left:371px;width:29px;text-align:right">85</div>
<div class="tf" style="top:589.4px;height:32.4px;left:405px;width:41.25px;text-align:right">126</div>
<div class="tf" style="top:589.4px;height:32.4px;left:451.25px;width:29.25px;text-align:right">21</div>
<div class="tf" style="top:589.4px;height:32.4px;left:485.5px;width:30.5px;text-align:right">0</div>
<div class="tf" style="top:589.4px;height:32.4px;left:521px;width:31.6px;text-align:right">36</div>
<div class="tf" style="top:589.4px;height:32.4px;left:557.6px;width:41.3px;text-align:right">95</div>
<div class="tf" style="top:589.4px;height:32.4px;left:603.9px;width:30.2px;text-align:right">0</div>
<div class="tf" style="top:589.4px;height:32.4px;left:639.1px;width:28.9px;text-align:right">0</div>
<div class="tf" style="top:589.4px;height:32.4px;left:673px;width:41.4px;text-align:right">121</div>
<div class="tf" style="top:589.4px;height:32.4px;left:719.4px;width:40.6px;text-align:right">205</div>
<div class="tf" style="top:589.4px;height:32.4px;left:765px;width:46.6px;text-align:right">.195</div>
<div class="tf" style="top:589.4px;height:32.4px;left:816.6px;width:47.15px;text-align:right">.325</div>
<div class="tf" style="top:589.4px;height:32.4px;left:868.75px;width:47.05px;text-align:right">.395</div>
<div class="tf" style="top:589.4px;height:32.4px;left:920.8px;width:58.1px;text-align:right">.719</div>
<div class="tf" style="top:589.4px;height:32.4px;left:983.9px;width:57.1px;text-align:right">96</div>
<div class="tf" style="top:621.8px;height:33px;left:21px;width:205.5px;text-align:right"><span style="letter-spacing:0.3px">NL (1 yr)</span></div>
<div class="tf" style="top:621.8px;height:33px;left:233.6px;width:40.3px;text-align:right">18</div>
<div class="tf" style="top:621.8px;height:33px;left:278.9px;width:41.2px;text-align:right">63</div>
<div class="tf" style="top:621.8px;height:33px;left:325.1px;width:40.9px;text-align:right">55</div>
<div class="tf" style="top:621.8px;height:33px;left:371px;width:29px;text-align:right">13</div>
<div class="tf" style="top:621.8px;height:33px;left:405px;width:41.25px;text-align:right">19</div>
<div class="tf" style="top:621.8px;height:33px;left:451.25px;width:29.25px;text-align:right">2</div>
<div class="tf" style="top:621.8px;height:33px;left:485.5px;width:30.5px;text-align:right">0</div>
<div class="tf" style="top:621.8px;height:33px;left:521px;width:31.6px;text-align:right">4</div>
<div class="tf" style="top:621.8px;height:33px;left:557.6px;width:41.3px;text-align:right">11</div>
<div class="tf" style="top:621.8px;height:33px;left:603.9px;width:30.2px;text-align:right">0</div>
<div class="tf" style="top:621.8px;height:33px;left:639.1px;width:28.9px;text-align:right">0</div>
<div class="tf" style="top:621.8px;height:33px;left:673px;width:41.4px;text-align:right">8</div>
<div class="tf" style="top:621.8px;height:33px;left:719.4px;width:40.6px;text-align:right">18</div>
<div class="tf" style="top:621.8px;height:33px;left:765px;width:46.6px;text-align:right">.345</div>
<div class="tf" style="top:621.8px;height:33px;left:816.6px;width:47.15px;text-align:right">.429</div>
<div class="tf" style="top:621.8px;height:33px;left:868.75px;width:47.05px;text-align:right">.600</div>
<div class="tf" style="top:621.8px;height:33px;left:920.8px;width:58.1px;text-align:right">1.029</div>
<div class="tf" style="top:621.8px;height:33px;left:983.9px;width:57.1px;text-align:right">176</div>
<svg style="position:absolute;left:74.5px;top:207.8px" width="15" height="15" viewBox="0 0 100 100"><polygon points="50,2 61.8,36.5 98,36.5 68.8,58.5 79.4,95 50,73 20.6,95 31.2,58.5 2,36.5 38.2,36.5" fill="#cfcfd1"/></svg>
<svg class="ov" width="1024" height="678" viewBox="0 0 1024 678">
<path d="M 127 533 C 127 527, 132 524, 149 520.3 C 175 516, 200 512, 232 509.6 C 270 504, 320 499.5, 360 498.3 C 450 497.5, 600 496.5, 690 497 C 740 496.5, 780 495, 820 494.7 C 860 494.8, 900 495.5, 918 495.7 C 950 496, 975 500, 990 503 C 1005 506, 1011 515, 1008.5 524 C 1005 532, 992 538, 973 538 C 930 537.5, 880 537, 853 537 C 800 536.5, 770 536, 755 536 C 730 537, 710 539.5, 690 542 C 680 543, 670 544, 659 544.7 C 630 546.5, 605 548.6, 586 548.6 L 480 548.6 C 466 548.6, 462 544, 452 543.8 L 255 542.9 C 200 543.2, 170 543.5, 150 543.3 C 138 543, 130 540, 127 533 Z" fill="none" stroke="#d9334f" stroke-width="2.4" stroke-linejoin="round" stroke-linecap="round"/>
<path d="M 142 522.3 C 150 520, 160 517.5, 168.5 516" fill="none" stroke="#d9334f" stroke-width="3" stroke-linecap="round"/>
</svg>
</body></html>
